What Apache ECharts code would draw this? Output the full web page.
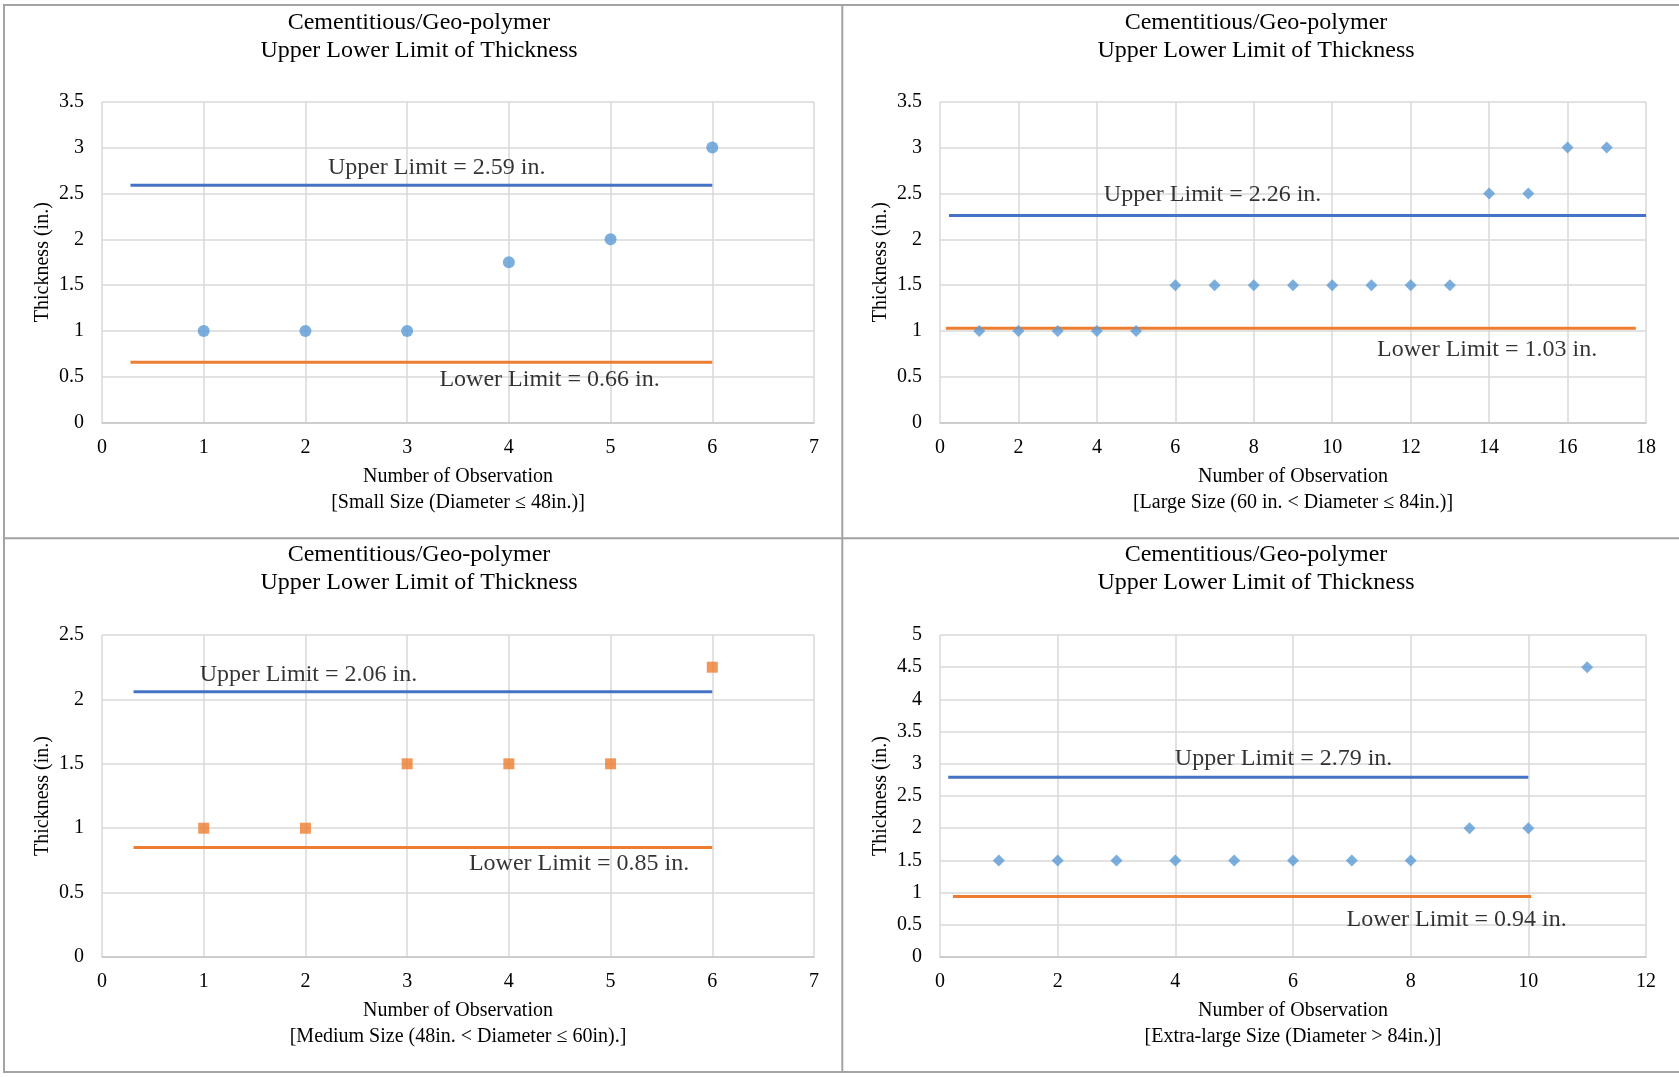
<!DOCTYPE html>
<html>
<head>
<meta charset="utf-8">
<title>Cementitious/Geo-polymer – Upper Lower Limit of Thickness</title>
<script src="https://cdn.jsdelivr.net/npm/echarts@6/dist/echarts.min.js"></script>
<style>
  html, body { margin: 0; padding: 0; background: #ffffff; }
  #chart { width: 1679px; height: 1077px; }
</style>
</head>
<body>
<div id="chart"></div>
<script>
// ---- Data (panel order: small, large, medium, extra-large) ----
const chartTitle = 'Cementitious/Geo-polymer\nUpper Lower Limit of Thickness';
const xAxisTitle = 'Number of Observation';
const yAxisTitle = 'Thickness (in.)';
const sizeCaptions = [
  '[Small Size (Diameter ≤ 48in.)]',
  '[Large Size (60 in. < Diameter ≤ 84in.)]',
  '[Medium Size (48in. < Diameter ≤ 60in).]',
  '[Extra-large Size (Diameter > 84in.)]'
];

const obsSmall = [1, 2, 3, 4, 5, 6];
const thickSmall = [1, 1, 1, 1.75, 2, 3];

const obsLarge = [1, 2, 3, 4, 5, 6, 7, 8, 9, 10, 11, 12, 13, 14, 15, 16, 17];
const thickLarge = [1, 1, 1, 1, 1, 1.5, 1.5, 1.5, 1.5, 1.5, 1.5, 1.5, 1.5, 2.5, 2.5, 3, 3];

const obsMedium = [1, 2, 3, 4, 5, 6];
const thickMedium = [1, 1, 1.5, 1.5, 1.5, 2.25];

const obsXLarge = [1, 2, 3, 4, 5, 6, 7, 8, 9, 10, 11];
const thickXLarge = [1.5, 1.5, 1.5, 1.5, 1.5, 1.5, 1.5, 1.5, 2, 2, 4.5];

const upperLimits = [2.59, 2.26, 2.06, 2.79];
const lowerLimits = [0.66, 1.03, 0.85, 0.94];

// Axis ranges
const xMax = [7, 18, 7, 12];
const xStep = [1, 2, 1, 2];
const yMax = [3.5, 3.5, 2.5, 5];
const yStep = [0.5, 0.5, 0.5, 0.5];

// ---- Layout ----
const observations = [obsSmall, obsLarge, obsMedium, obsXLarge];
const thickness = [thickSmall, thickLarge, thickMedium, thickXLarge];

const grids = [
  { left: 102, top: 101.7, width: 712, height: 321 },
  { left: 940, top: 101.7, width: 706, height: 321 },
  { left: 102, top: 635, width: 712, height: 322 },
  { left: 940, top: 635, width: 706, height: 322 }
];
const titleCenters = [[419, 37], [1256, 37], [419, 569], [1256, 569]];

// horizontal reach of each limit line, in observation units
const upperReach = [[0.28, 6], [0.23, 18], [0.31, 6], [0.14, 10]];
const lowerReach = [[0.28, 6], [0.15, 17.74], [0.31, 6], [0.22, 10.05]];
// where the limit notes sit along x, and their pixel offset from the line
const upperNoteX = [3.29, 6.95, 2.03, 5.84];
const lowerNoteX = [4.40, 13.95, 4.69, 8.78];
const upperNoteDy = [-17, -20.6, -17.3, -18.2];
const lowerNoteDy = [18, 21.6, 16, 22.8];

const markerStyles = [
  { symbol: 'circle', size: 12, color: '#5B9BD5' },
  { symbol: 'diamond', size: 12, color: '#5B9BD5' },
  { symbol: 'rect', size: 11, color: '#ED7D31' },
  { symbol: 'diamond', size: 12, color: '#5B9BD5' }
];

const SERIF = '"Liberation Serif", "Times New Roman", serif';
const TEXT_COLOR = '#000000';
const UPPER_COLOR = '#4472C4';
const LOWER_COLOR = '#ED7D31';

const xAxes = [], yAxes = [], series = [], graphics = [];

grids.forEach((g, i) => {
  xAxes.push({
    type: 'value', gridIndex: i, min: 0, max: xMax[i], interval: xStep[i],
    name: xAxisTitle + '\n' + sizeCaptions[i],
    nameLocation: 'middle', nameGap: 41,
    nameTextStyle: { fontFamily: SERIF, fontSize: 20, lineHeight: 26, color: TEXT_COLOR },
    axisLine: { show: true, lineStyle: { color: '#c6c6c6', width: 1.5 } },
    axisTick: { show: false },
    axisLabel: { fontFamily: SERIF, fontSize: 20, color: TEXT_COLOR, margin: 15 },
    splitLine: { show: true, lineStyle: { color: '#d9d9d9', width: 1.5 } }
  });
  yAxes.push({
    type: 'value', gridIndex: i, min: 0, max: yMax[i], interval: yStep[i],
    name: yAxisTitle,
    nameLocation: 'middle', nameGap: 49,
    nameTextStyle: { fontFamily: SERIF, fontSize: 20, color: TEXT_COLOR },
    axisLine: { show: false },
    axisTick: { show: false },
    axisLabel: { fontFamily: SERIF, fontSize: 20, color: TEXT_COLOR, margin: 18 },
    splitLine: { show: true, lineStyle: { color: '#d9d9d9', width: 1.5 } }
  });

  // observed thickness
  const m = markerStyles[i];
  series.push({
    type: 'scatter', xAxisIndex: i, yAxisIndex: i,
    symbol: m.symbol, symbolSize: m.size,
    itemStyle: { color: m.color },
    data: observations[i].map((x, j) => [x, thickness[i][j]]),
    z: 3
  });

  // upper and lower limit lines
  series.push({
    type: 'line', xAxisIndex: i, yAxisIndex: i, showSymbol: false, silent: true,
    lineStyle: { color: UPPER_COLOR, width: 3 },
    data: upperReach[i].map(x => [x, upperLimits[i]]),
    z: 2
  });
  series.push({
    type: 'line', xAxisIndex: i, yAxisIndex: i, showSymbol: false, silent: true,
    lineStyle: { color: LOWER_COLOR, width: 3 },
    data: lowerReach[i].map(x => [x, lowerLimits[i]]),
    z: 2
  });

  // limit notes
  const note = (x, v, dy, prefix) => ({
    value: [x, v],
    label: {
      show: true, position: 'inside', offset: [0, dy],
      formatter: prefix + ' = ' + v.toFixed(2) + ' in.',
      fontFamily: SERIF, fontSize: 24, color: TEXT_COLOR
    }
  });
  series.push({
    type: 'scatter', xAxisIndex: i, yAxisIndex: i, symbolSize: 0, silent: true,
    data: [
      note(upperNoteX[i], upperLimits[i], upperNoteDy[i], 'Upper Limit'),
      note(lowerNoteX[i], lowerLimits[i], lowerNoteDy[i], 'Lower Limit')
    ],
    z: 4
  });

  // panel title
  graphics.push({
    type: 'text', x: titleCenters[i][0], y: titleCenters[i][1],
    style: {
      text: chartTitle, align: 'center', verticalAlign: 'middle',
      font: '24px ' + SERIF, lineHeight: 27.6, fill: TEXT_COLOR
    }
  });
});

// frame and dividers between the four panels
const FRAME = '#a3a3a3';
graphics.push(
  { type: 'rect', shape: { x: 4, y: 5, width: 1676, height: 1067 },
    style: { fill: 'none', stroke: FRAME, lineWidth: 2 } },
  { type: 'line', shape: { x1: 842.3, y1: 5, x2: 842.3, y2: 1072 },
    style: { stroke: FRAME, lineWidth: 2 } },
  { type: 'line', shape: { x1: 4, y1: 538.3, x2: 1680, y2: 538.3 },
    style: { stroke: FRAME, lineWidth: 2 } }
);

const chart = echarts.init(document.getElementById('chart'), null, { renderer: 'canvas' });
chart.setOption({
  animation: false,
  backgroundColor: '#ffffff',
  grid: grids,
  xAxis: xAxes,
  yAxis: yAxes,
  series: series,
  graphic: graphics
});
</script>
</body>
</html>
